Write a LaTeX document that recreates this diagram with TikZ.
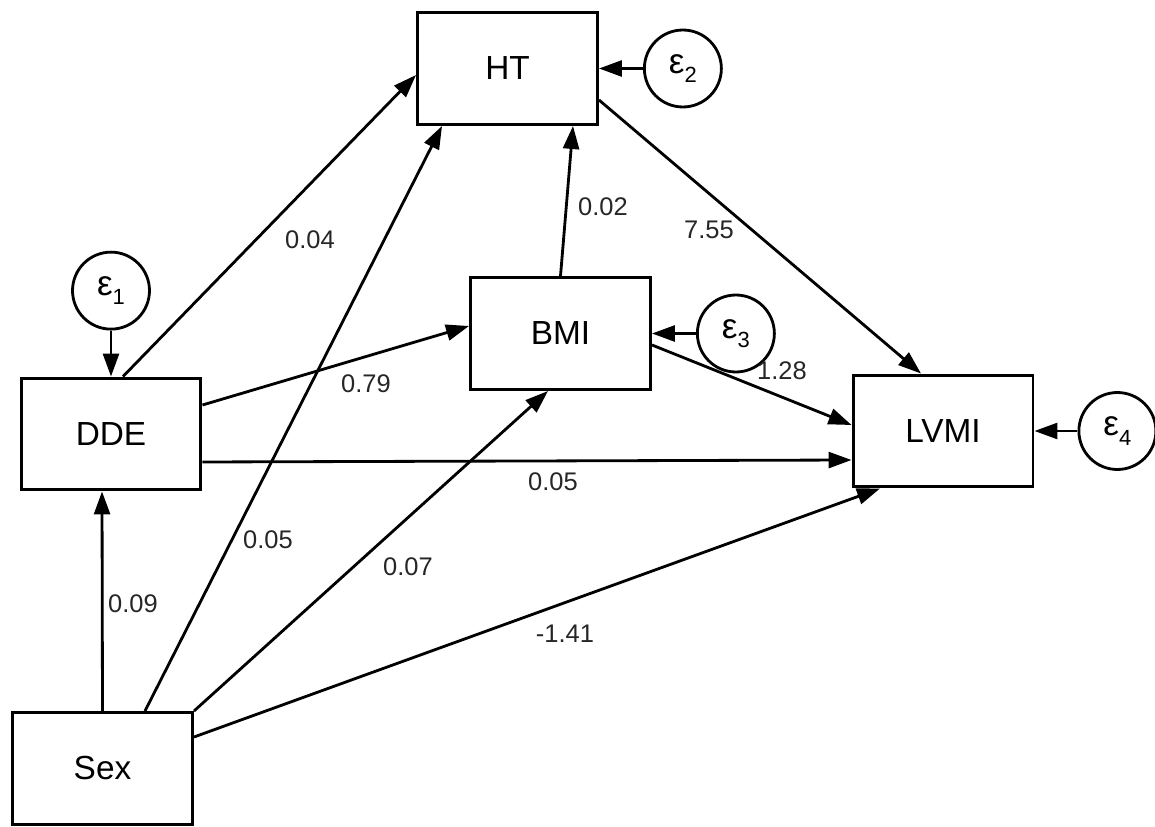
\documentclass[tikz,border=0pt]{standalone}
\usepackage{fontspec}
\setmainfont{Liberation Sans}
\usetikzlibrary{arrows.meta,positioning}
\newcommand{\errterm}[1]{ε\raisebox{-5.5pt}{\fontsize{12.5}{12}\selectfont #1}}
\tikzset{
  vb/.style={draw,line width=1.7pt,minimum width=3.6cm,minimum height=2.24cm,inner sep=0pt,font=\fontsize{19}{22}\selectfont},
  er/.style={circle,draw,line width=1.6pt,minimum size=1.54cm,inner sep=0pt,font=\fontsize{20}{22}\selectfont},
  ar/.style={-{Triangle[length=4.6mm,width=3.2mm]},line width=1.6pt},
  lb/.style={font=\fontsize{14.5}{16}\selectfont,text=black!85,inner sep=1pt}
}
\begin{document}
\begin{tikzpicture}[x=0.02cm,y=-0.02cm]
\useasboundingbox (0,0) rectangle (1155,827);
% variables
\node[vb] (ht) at (507.5,68.5) {HT};
\node[vb] (bmi) at (560.5,333.5) {BMI};
\node[vb] (dde) at (111,434) {DDE};
\node[vb] (lvmi) at (943,431) {LVMI};
\node[vb] (sex) at (102.5,768.5) {Sex};
% error terms
\node[er,above=0.92cm of dde] (e1) {\errterm{1}};
\node[er,right=0.88cm of ht] (e2) {\errterm{2}};
\node[er,right=0.88cm of bmi] (e3) {\errterm{3}};
\node[er,right=0.86cm of lvmi] (e4) {\errterm{4}};
\foreach \e/\v in {e1/dde,e2/ht,e3/bmi,e4/lvmi}{\draw[ar] (\e)--(\v);}
% paths
\draw[ar] ([xshift=0.24cm]dde.north)--([yshift=-0.13cm]ht.west);
\draw[ar] ([yshift=0.58cm]dde.east)--([yshift=0.15cm]bmi.west);
\draw[ar] ([yshift=-0.56cm]dde.east)--([yshift=-0.58cm]lvmi.west);
\draw[ar] (bmi.north)--([xshift=1.31cm]ht.south);
\draw[ar] ([yshift=-0.23cm]bmi.east)--([yshift=0.12cm]lvmi.west);
\draw[ar] ([yshift=-0.63cm]ht.east)--([xshift=-0.44cm]lvmi.north);
\draw[ar] (sex.north)--([xshift=-0.18cm]dde.south);
\draw[ar] ([xshift=0.85cm]sex.north)--([xshift=-1.31cm]ht.south);
\draw[ar] (sex.north east)--([xshift=-0.25cm]bmi.south);
\draw[ar] ([yshift=0.63cm]sex.east)--([xshift=-1.26cm]lvmi.south);
% coefficients
\node[lb] (c1) at (310,240) {0.04};
\node[lb] (c2) at (603,207) {0.02};
\node[lb] (c3) at (709,230) {7.55};
\node[lb] (c4) at (366,384) {0.79};
\node[lb] (c5) at (782,371) {1.28};
\node[lb] (c6) at (553,482) {0.05};
\node[lb] (c7) at (268,540) {0.05};
\node[lb] (c8) at (408,567) {0.07};
\node[lb] (c9) at (133,604) {0.09};
\node[lb] (c10) at (565,634) {-1.41};
\end{tikzpicture}
\end{document}
